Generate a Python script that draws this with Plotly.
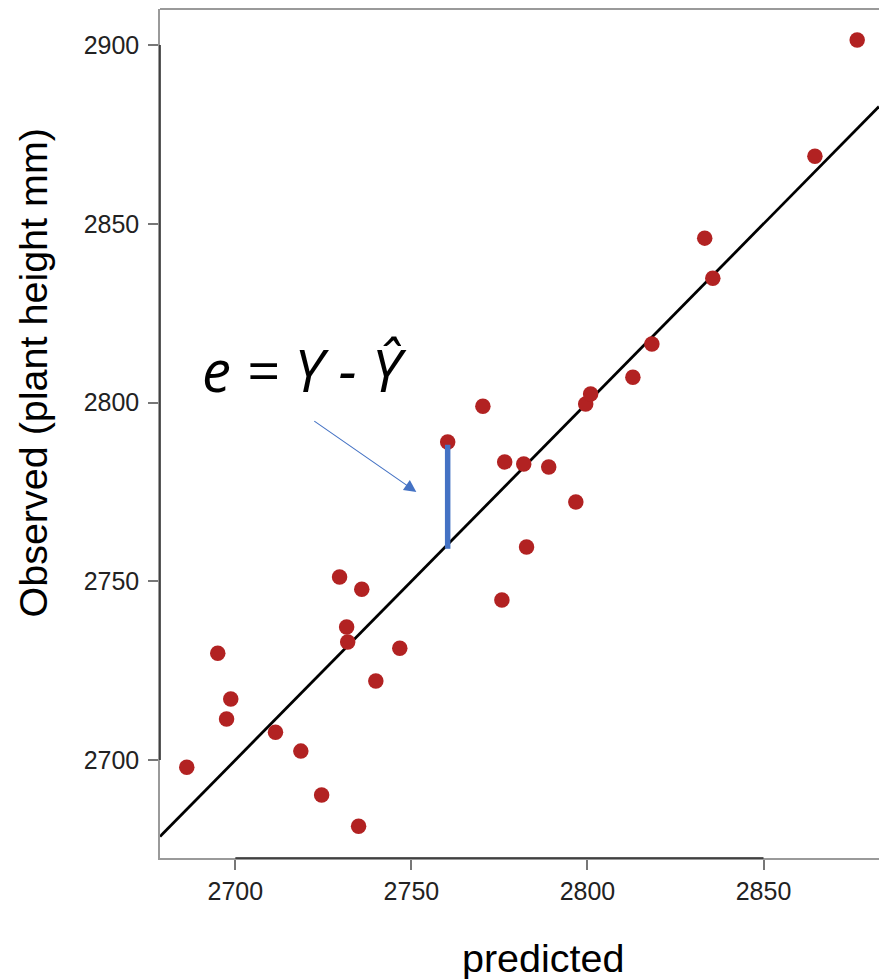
import plotly.graph_objects as go

# Data
predicted = [2686.2, 2695.0, 2698.7, 2697.5, 2711.4, 2718.6, 2724.5, 2729.6, 2731.6, 2731.9,
             2735.9, 2739.9, 2735.0, 2746.7, 2760.3, 2770.3, 2776.5, 2775.7, 2781.9, 2782.7,
             2789.0, 2796.7, 2799.5, 2800.9, 2812.9, 2818.3, 2833.3, 2835.6, 2864.6, 2876.6]
observed = [2698.0, 2729.9, 2717.1, 2711.5, 2707.8, 2702.5, 2690.2, 2751.2, 2737.2, 2733.0,
            2747.8, 2722.1, 2681.5, 2731.3, 2789.0, 2799.0, 2783.4, 2744.8, 2782.8, 2759.6,
            2782.0, 2772.2, 2799.6, 2802.4, 2807.1, 2816.4, 2846.0, 2834.8, 2868.9, 2901.4]

fit_intercept = 0.0
fit_slope = 1.0
residual_index = 14  # highlighted residual point

x_range = [2678.6, 2882.8]
y_range = [2672.6, 2910.1]
x_ticks = [2700, 2750, 2800, 2850]
y_ticks = [2700, 2750, 2800, 2850, 2900]

x_title = "predicted"
y_title = "Observed (plant height mm)"
formula = "<i>e = Y - Ŷ</i>"

RED = "#B22222"
BLUE = "#4472C4"
GRAY = "#9a9a9a"
DARK = "#222222"

fig = go.Figure()

# fitted line y = a + b x across the axis range
line_x = list(x_range)
line_y = [fit_intercept + fit_slope * v for v in line_x]
fig.add_trace(go.Scatter(x=line_x, y=line_y, mode="lines",
                         line=dict(color="black", width=2.8), hoverinfo="skip"))

fig.add_trace(go.Scatter(x=predicted, y=observed, mode="markers",
                         marker=dict(color=RED, size=15.5, line=dict(width=0))))

# residual segment
rx = predicted[residual_index]
ry = observed[residual_index]
fig.add_trace(go.Scatter(x=[rx, rx], y=[fit_intercept + fit_slope * rx - 1.2, ry - 0.8],
                         mode="lines", line=dict(color=BLUE, width=5.5), hoverinfo="skip"))

font_family = "Liberation Sans, Arial, sans-serif"

fig.update_layout(
    width=879, height=979,
    margin=dict(l=160, r=0, t=9, b=121),
    paper_bgcolor="white", plot_bgcolor="white",
    showlegend=False,
    xaxis=dict(range=x_range, tickvals=x_ticks, ticktext=[str(v) for v in x_ticks],
               showgrid=False, zeroline=False, showline=True, linecolor=GRAY, linewidth=1.5,
               ticks="outside", ticklen=10, tickwidth=1.5, tickcolor="#777777",
               tickfont=dict(family=font_family, size=25, color="#222222"),
               ticklabelstandoff=0),
    yaxis=dict(range=y_range, tickvals=y_ticks, ticktext=[str(v) for v in y_ticks],
               showgrid=False, zeroline=False, showline=True, linecolor=GRAY, linewidth=1.5,
               ticks="outside", ticklen=10, tickwidth=1.5, tickcolor="#777777",
               tickfont=dict(family=font_family, size=25, color="#222222"),
               ticklabelstandoff=4),
)

# top border, and dark axis spans between first and last tick
fig.add_shape(type="line", xref="paper", yref="paper", x0=0, x1=1, y0=1, y1=1,
              line=dict(color=GRAY, width=1.8))
fig.add_shape(type="line", xref="x", yref="paper", x0=x_ticks[0], x1=x_ticks[-1], y0=0, y1=0,
              line=dict(color=DARK, width=1.5))
fig.add_shape(type="line", xref="paper", yref="y", x0=0, x1=0, y0=y_ticks[0], y1=y_ticks[-1],
              line=dict(color=DARK, width=1.5))

# axis titles
fig.add_annotation(text=x_title, xref="paper", yref="paper", x=0.5327, y=-0.118,
                   showarrow=False, xanchor="center", yanchor="middle",
                   font=dict(family=font_family, size=39.5, color="black"))
fig.add_annotation(text=y_title, xref="paper", yref="paper", x=-0.1766, y=0.5718,
                   showarrow=False, xanchor="center", yanchor="middle", textangle=-90,
                   font=dict(family=font_family, size=39.5, color="black"))

# formula and arrow
fig.add_annotation(text=formula, xref="x", yref="y", x=2719.7, y=2809.3,
                   showarrow=False, xanchor="center", yanchor="middle",
                   font=dict(family="Open Sans, sans-serif", size=58, color="black"))
fig.add_annotation(text="", xref="x", yref="y", x=2751.4, y=2775.0,
                   axref="x", ayref="y", ax=2722.0, ay=2795.1,
                   showarrow=True, arrowhead=2, arrowsize=2.2, arrowwidth=1.1,
                   arrowcolor=BLUE, standoff=0)

fig.write_html("out.html")
